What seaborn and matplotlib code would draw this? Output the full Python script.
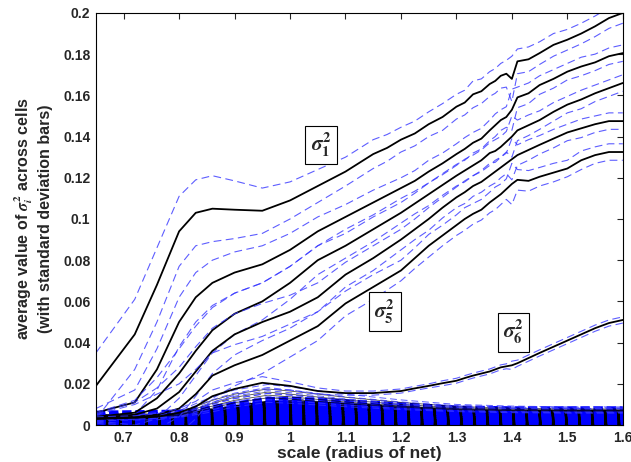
import matplotlib
matplotlib.use("Agg")
import matplotlib.pyplot as plt
import numpy as np
import pandas as pd
import seaborn as sns

# sample positions (scale = radius of net)
scale = [0.65, 0.72, 0.76, 0.80, 0.83, 0.86, 0.90, 0.95, 1.00, 1.05, 1.10,
         1.15, 1.175, 1.20, 1.225, 1.25, 1.275, 1.30, 1.315, 1.33, 1.345, 1.36, 1.37,
         1.38, 1.39, 1.40, 1.41, 1.43, 1.45, 1.475, 1.50, 1.525, 1.55, 1.575, 1.60]

sigma1 = [0.019, 0.044, 0.068, 0.094, 0.103, 0.105, 0.1045, 0.104, 0.109, 0.116, 0.123,
          0.1315, 0.1345, 0.1385, 0.1415, 0.146, 0.1495, 0.1545, 0.1565, 0.1605, 0.162, 0.1655, 0.1670,
          0.1695, 0.1705, 0.1680, 0.1765, 0.1775, 0.1805, 0.1845, 0.1870, 0.1900, 0.1935, 0.1975, 0.2000]
sigma2 = [0.006, 0.011, 0.027, 0.050, 0.062, 0.069, 0.074, 0.078, 0.085, 0.094, 0.101,
          0.108, 0.1115, 0.115, 0.1185, 0.123, 0.1270, 0.1315, 0.1340, 0.1370, 0.1390, 0.1430, 0.1455,
          0.1480, 0.1495, 0.1530, 0.1590, 0.1610, 0.1650, 0.1680, 0.1715, 0.1740, 0.1760, 0.1790, 0.1805]
sigma3 = [0.004, 0.006, 0.013, 0.025, 0.036, 0.046, 0.054, 0.060, 0.069, 0.080, 0.087,
          0.095, 0.099, 0.103, 0.1075, 0.112, 0.1165, 0.1210, 0.1235, 0.1260, 0.1285, 0.1320, 0.1330,
          0.1350, 0.1375, 0.1400, 0.1430, 0.1455, 0.1480, 0.1520, 0.1555, 0.1580, 0.1610, 0.1635, 0.1660]
sigma4 = [0.0035, 0.005, 0.008, 0.016, 0.026, 0.036, 0.044, 0.050, 0.055, 0.062, 0.073,
          0.081, 0.0855, 0.090, 0.0950, 0.100, 0.1055, 0.1105, 0.1130, 0.1160, 0.1180, 0.1210, 0.1230,
          0.1250, 0.1270, 0.1290, 0.1310, 0.1335, 0.1360, 0.1390, 0.1420, 0.1440, 0.1460, 0.1475, 0.1475]
sigma5 = [0.003, 0.004, 0.005, 0.008, 0.015, 0.024, 0.029, 0.034, 0.041, 0.048, 0.059,
          0.067, 0.071, 0.075, 0.0810, 0.087, 0.0920, 0.0970, 0.1000, 0.1025, 0.1045, 0.1080, 0.1100,
          0.1120, 0.1145, 0.1170, 0.1190, 0.1185, 0.1205, 0.1225, 0.1245, 0.1285, 0.1310, 0.1325, 0.1325]
sigma6 = [0.003, 0.0035, 0.004, 0.006, 0.009, 0.014, 0.0175, 0.0205, 0.019, 0.0165, 0.0155,
          0.0155, 0.016, 0.0165, 0.0178, 0.019, 0.0203, 0.0215, 0.0228, 0.024, 0.025, 0.026, 0.027,
          0.028, 0.0285, 0.029, 0.030, 0.0325, 0.035, 0.038, 0.041, 0.044, 0.047, 0.0495, 0.051]

std1 = [0.016, 0.017, 0.018, 0.017, 0.016, 0.016, 0.014, 0.011, 0.009, 0.008, 0.007,
        0.007, 0.0065, 0.006, 0.006, 0.006, 0.0065, 0.006, 0.006, 0.0065, 0.006, 0.006, 0.006,
        0.006, 0.0065, 0.011, 0.006, 0.006, 0.0055, 0.0055, 0.005, 0.005, 0.005, 0.005, 0.005]
std_mid = [0.002, 0.006, 0.010, 0.012, 0.012, 0.011, 0.010, 0.009, 0.008, 0.007, 0.006,
           0.006, 0.0055, 0.005, 0.005, 0.0055, 0.005, 0.005, 0.0055, 0.005, 0.005, 0.005, 0.0055,
           0.005, 0.005, 0.010, 0.005, 0.005, 0.0045, 0.0045, 0.004, 0.0045, 0.004, 0.004, 0.004]
std6 = [0.001, 0.001, 0.0015, 0.002, 0.0025, 0.003, 0.003, 0.003, 0.002, 0.0015, 0.001,
        0.001, 0.001, 0.001, 0.001, 0.001, 0.0012, 0.0012, 0.0012, 0.0012, 0.0012, 0.0012, 0.0012,
        0.0012, 0.0012, 0.002, 0.0015, 0.0015, 0.0015, 0.0015, 0.0015, 0.0015, 0.0015, 0.0015, 0.0015]

# the small eigenvalues (sigma_7 ...) on a coarser grid
low_scale = [0.65, 0.72, 0.80, 0.86, 0.90, 0.96, 1.00, 1.10, 1.20, 1.30, 1.40, 1.50, 1.60]
# the ones still visible as separate lines
thin_means = [
    [0.0040, 0.0042, 0.0060, 0.0120, 0.0150, 0.0175, 0.0165, 0.0135, 0.0110, 0.0090, 0.0082, 0.0078, 0.0078],
    [0.0038, 0.0040, 0.0055, 0.0105, 0.0135, 0.0160, 0.0150, 0.0122, 0.0100, 0.0084, 0.0077, 0.0074, 0.0074],
    [0.0036, 0.0038, 0.0050, 0.0092, 0.0120, 0.0145, 0.0137, 0.0112, 0.0092, 0.0079, 0.0073, 0.0070, 0.0070],
    [0.0034, 0.0036, 0.0047, 0.0082, 0.0108, 0.0132, 0.0126, 0.0104, 0.0087, 0.0075, 0.0070, 0.0068, 0.0068],
]
thin_std = [0.0008, 0.0008, 0.0010, 0.0018, 0.0020, 0.0022, 0.0020, 0.0015, 0.0012, 0.0010, 0.0010, 0.0010, 0.0010]
# the ones that pile up into a solid block at the bottom
block_means = [
    [0.0045, 0.0047, 0.0050, 0.0070, 0.0085, 0.0105, 0.0108, 0.0098, 0.0084, 0.0070, 0.0066, 0.0066, 0.0066],
    [0.0032, 0.0033, 0.0035, 0.0050, 0.0062, 0.0080, 0.0082, 0.0070, 0.0060, 0.0050, 0.0047, 0.0047, 0.0047],
    [0.0020, 0.0020, 0.0022, 0.0032, 0.0040, 0.0052, 0.0053, 0.0045, 0.0038, 0.0032, 0.0030, 0.0030, 0.0030],
    [0.0010, 0.0010, 0.0011, 0.0016, 0.0020, 0.0026, 0.0027, 0.0023, 0.0019, 0.0016, 0.0015, 0.0015, 0.0015],
]
block_std = [0.0010, 0.0010, 0.0010, 0.0012, 0.0014, 0.0016, 0.0016, 0.0013, 0.0011, 0.0010, 0.0010, 0.0010, 0.0010]

xticks = [0.7, 0.8, 0.9, 1.0, 1.1, 1.2, 1.3, 1.4, 1.5, 1.6]
xticklabels = ["0.7", "0.8", "0.9", "1", "1.1", "1.2", "1.3", "1.4", "1.5", "1.6"]
yticks = [0, 0.02, 0.04, 0.06, 0.08, 0.1, 0.12, 0.14, 0.16, 0.18, 0.2]
yticklabels = ["0", "0.02", "0.04", "0.06", "0.08", "0.1", "0.12", "0.14", "0.16", "0.18", "0.2"]

sns.set_style("white")
plt.rcParams["font.family"] = ["Liberation Sans", "DejaVu Sans"]
plt.rcParams["font.weight"] = "bold"
plt.rcParams["mathtext.fontset"] = "stix"

fig = plt.figure(figsize=(6.31, 4.62), dpi=100)
ax = fig.add_axes([0.152, 0.080, 0.835, 0.892])

blue = "#3535ff"
dash = (0, (7, 4))


def band_frame(x, mean, std):
    m = np.array(mean)
    s = np.array(std)
    return pd.DataFrame({"scale": x, "mean": m, "lo": m - s, "hi": m + s})


# bottom block: black underneath, thick blue dashes on top
top = band_frame(low_scale, block_means[0], block_std)
ax.fill_between(top["scale"], 0, top["hi"], color="black", lw=0)
for m in block_means:
    df = band_frame(low_scale, m, block_std)
    for col in ("hi", "lo", "mean"):
        sns.lineplot(data=df, x="scale", y=col, ax=ax, color="blue", lw=4.5,
                     linestyle=(0, (1.5, 0.6)))

for m in thin_means:
    df = band_frame(low_scale, m, thin_std)
    sns.lineplot(data=df, x="scale", y="hi", ax=ax, color=blue, lw=0.7, linestyle=dash, alpha=0.8)
    sns.lineplot(data=df, x="scale", y="lo", ax=ax, color=blue, lw=0.7, linestyle=dash, alpha=0.8)
    sns.lineplot(data=df, x="scale", y="mean", ax=ax, color="black", lw=0.6, alpha=0.7)

curves = [(sigma1, std1), (sigma2, std_mid), (sigma3, std_mid), (sigma4, std_mid),
          (sigma5, std_mid), (sigma6, std6)]
for mean, std in curves:
    df = band_frame(scale, mean, std)
    sns.lineplot(data=df, x="scale", y="hi", ax=ax, color=blue, lw=0.8, linestyle=dash, alpha=0.8)
    sns.lineplot(data=df, x="scale", y="lo", ax=ax, color=blue, lw=0.8, linestyle=dash, alpha=0.8)
    sns.lineplot(data=df, x="scale", y="mean", ax=ax, color="black", lw=1.3)

ax.set_xlim(0.65, 1.6)
ax.set_ylim(0, 0.2)
ax.set_xticks(xticks)
ax.set_xticklabels(xticklabels)
ax.set_yticks(yticks)
ax.set_yticklabels(yticklabels)
ax.tick_params(direction="in", top=True, right=True, length=4, width=0.8,
               labelsize=10, pad=4)
for sp in ax.spines.values():
    sp.set_linewidth(0.8)
    sp.set_color("black")
    sp.set_zorder(5)

ax.set_xlabel("scale (radius of net)", fontsize=12.5, fontweight="bold", labelpad=1)
ax.set_ylabel("average value of $\\sigma_i^2$ across cells\n(with standard deviation bars)",
              fontsize=11.5, fontweight="bold", labelpad=7, linespacing=1.25)

box = dict(boxstyle="square,pad=0.25", fc="white", ec="black", lw=0.8)
ax.text(1.056, 0.136, "$\\sigma_1^2$", fontsize=15, ha="center", va="center", bbox=box)
ax.text(1.171, 0.055, "$\\sigma_5^2$", fontsize=15, ha="center", va="center", bbox=box)
ax.text(1.403, 0.045, "$\\sigma_6^2$", fontsize=15, ha="center", va="center", bbox=box)

fig.savefig("out.png", dpi=100)
